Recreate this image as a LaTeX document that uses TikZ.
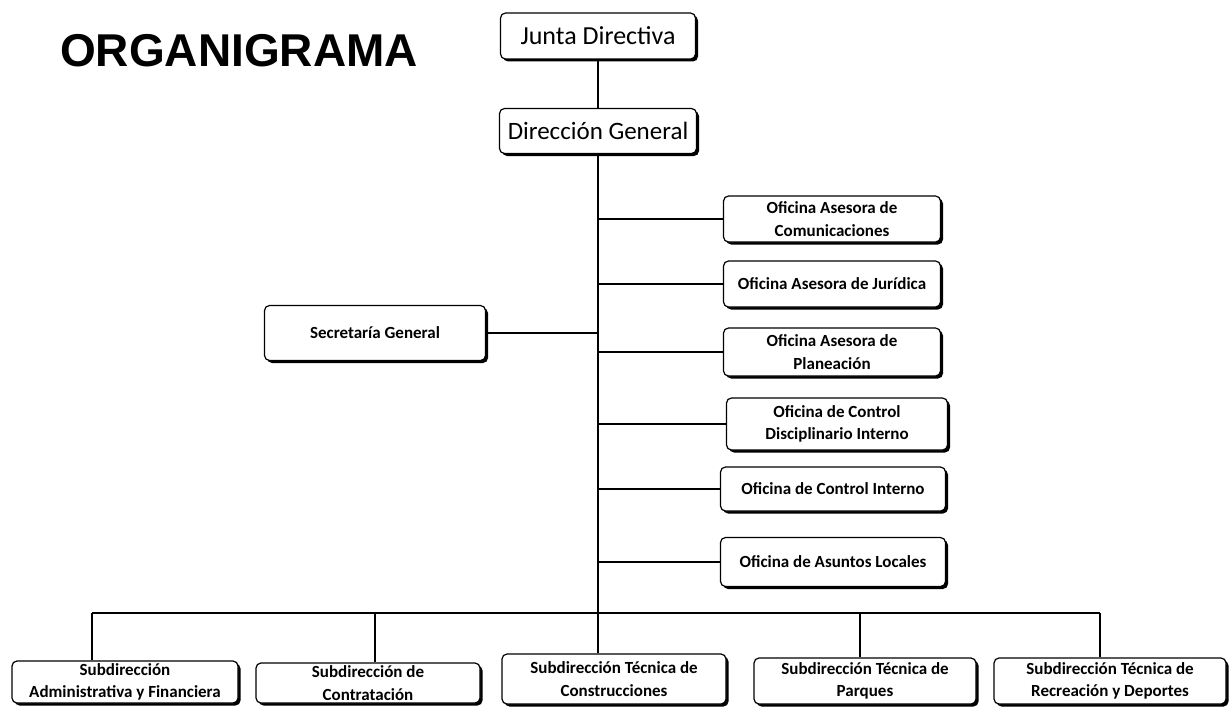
\documentclass[tikz,border=0pt]{standalone}
\usepackage{fontspec}
\setmainfont{Carlito}
\newfontfamily\titlefont{Liberation Sans}
\usetikzlibrary{shadows}

\tikzset{
  unitbox/.style={draw=black,line width=1.2pt,rounded corners=5pt,fill=white,
    align=center,inner sep=2pt,
    drop shadow={shadow xshift=2.5pt,shadow yshift=-2.5pt,fill=black,opacity=1}},
  topbox/.style={unitbox,font=\fontsize{25}{30}\selectfont},
  officebox/.style={unitbox,font=\fontsize{17}{22.5}\selectfont\bfseries},
  link/.style={draw=black,line width=1.4pt,line join=round},
}

\begin{document}
\begin{tikzpicture}[x=1pt,y=-1pt]
\path[use as bounding box,fill=white] (0,0) rectangle (1230,706);

\node[font=\titlefont\fontsize{46}{55}\selectfont\bfseries,anchor=base west,inner sep=0pt] (title) at (60,67) {ORGANIGRAMA};

\node[topbox,font=\fontsize{26}{30}\selectfont,minimum width=195pt,minimum height=46pt] (jd) at (598,36) {Junta Directiva};
\node[topbox,minimum width=197pt,minimum height=45pt] (dg) at (598,131) {Dirección General};

\node[officebox,minimum width=217pt,minimum height=46pt] (com) at (832,219) {Oficina Asesora de\\Comunicaciones};
\node[officebox,minimum width=217pt,minimum height=46pt] (jur) at (832,284) {Oficina Asesora de Jurídica};
\node[officebox,minimum width=217pt,minimum height=48pt] (pla) at (832,352) {Oficina Asesora de\\Planeación};
\node[officebox,minimum width=221pt,minimum height=52pt] (cdi) at (837,424) {Oficina de Control\\Disciplinario Interno};
\node[officebox,minimum width=225pt,minimum height=44pt] (cin) at (833,489) {Oficina de Control Interno};
\node[officebox,minimum width=225pt,minimum height=49pt] (asl) at (833,562) {Oficina de Asuntos Locales};

\node[officebox,minimum width=221pt,minimum height=55pt] (sec) at (375,333) {Secretaría General};

\node[officebox,inner sep=1pt,minimum width=226pt,minimum height=42pt] (adm) at (125,682) {Subdirección\\Administrativa y Financiera};
\node[officebox,inner sep=1pt,minimum width=224pt,minimum height=40pt] (con) at (368,683) {Subdirección de\\Contratación};
\node[officebox,inner sep=1pt,minimum width=224pt,minimum height=50pt] (cons) at (614,679) {Subdirección Técnica de\\Construcciones};
\node[officebox,inner sep=1pt,minimum width=222pt,minimum height=46pt] (par) at (865,681) {Subdirección Técnica de\\Parques};
\node[officebox,inner sep=1pt,minimum width=232pt,minimum height=46pt] (rec) at (1110,681) {Subdirección Técnica de\\Recreación y Deportes};

\coordinate (b1) at (92,613);
\coordinate (b2) at (375,613);
\coordinate (b4) at (860,613);
\coordinate (b5) at (1100,613);

\path[link] (jd.south) -- (jd.south |- dg.north);
\path[link] (dg.south) -- (dg.south |- cons.north);
\foreach \o in {com,jur,pla,cdi,cin,asl}
  \path[link] (\o.west -| dg.south) -- (\o.west);
\path[link] (sec.east) -- (sec.east -| dg.south);

\path[link] (b1) -- (b5);
\path[link] (b1) -- (b1 |- adm.north);
\path[link] (b2) -- (b2 |- con.north);
\path[link] (b4) -- (b4 |- par.north);
\path[link] (b5) -- (b5 |- rec.north);
\end{tikzpicture}
\end{document}
